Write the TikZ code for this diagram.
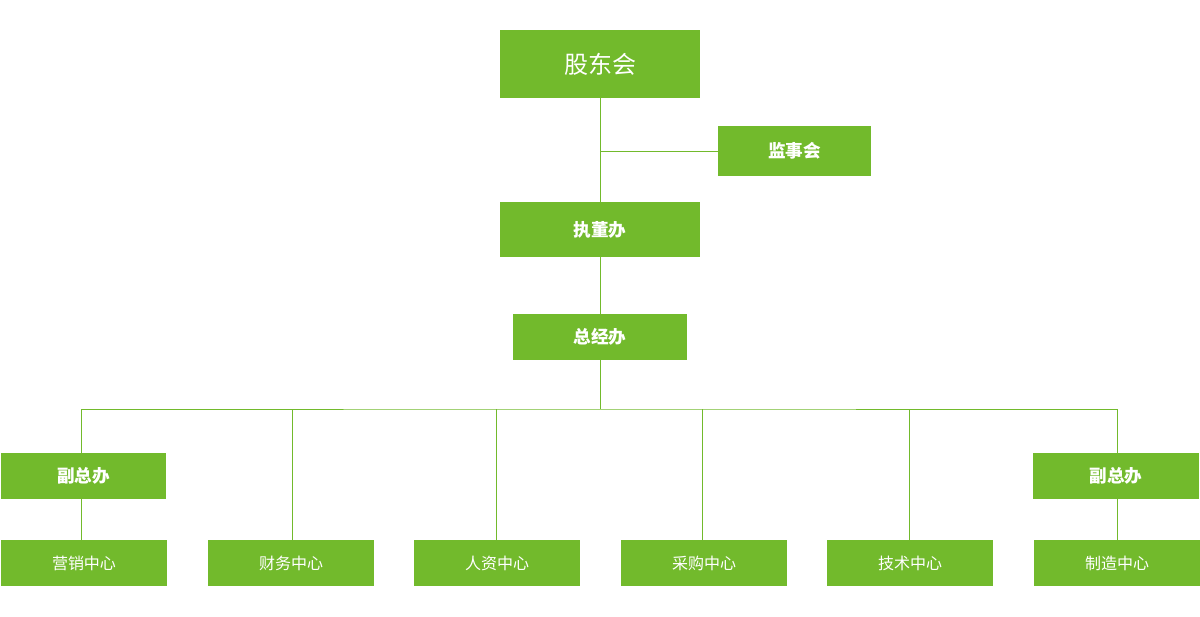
\documentclass[tikz,border=0pt]{standalone}
\usepackage{fontspec}
\newfontfamily\cjk{Noto Sans CJK SC}
\definecolor{leaf}{HTML}{72BA2C}
\begin{document}
\begin{tikzpicture}[x=1pt,y=-1pt,
  box/.style={fill=leaf,text=white,inner sep=0pt,anchor=center},
  big/.style={box,font=\cjk\fontsize{24}{27}\selectfont},
  bold/.style={box,font=\cjk\bfseries\fontsize{17.6}{20}\selectfont},
  plain/.style={box,font=\cjk\fontsize{16}{19}\selectfont,minimum width=166pt,minimum height=46pt},
  link/.style={draw=leaf,line width=0.9pt}]
\useasboundingbox (0,0) rectangle (1200,617);
\node[big,minimum width=200pt,minimum height=68pt] (gd) at (600,64) {股东会};
\node[bold,minimum width=153pt,minimum height=50pt] (js) at (794.5,151) {监事会};
\node[bold,minimum width=200pt,minimum height=55pt] (zd) at (600,229.5) {执董办};
\node[bold,minimum width=174pt,minimum height=46pt] (zj) at (600,337) {总经办};
\node[bold,minimum width=165pt,minimum height=46pt] (fl) at (83.5,476) {副总办};
\node[bold,minimum width=166pt,minimum height=46pt] (fr) at (1116,476) {副总办};
\node[plain] (yx) at (84,563) {营销中心};
\node[plain] (cw) at (291,563) {财务中心};
\node[plain] (rz) at (497,563) {人资中心};
\node[plain] (cg) at (704,563) {采购中心};
\node[plain] (js2) at (910,563) {技术中心};
\node[plain] (zz) at (1117,563) {制造中心};
\coordinate (bus) at (600,409);
\draw[link] (gd.south) -- (zd.north);
\draw[link] (js.west) -- (600,151);
\draw[link] (zd.south) -- (zj.north);
\draw[link] (zj.south) -- (bus);
\draw[link] (fl.north -| 81,0) |- (bus) -| (fr.north -| 1117,0);
\draw[link] (fl.south -| 81,0) -- (yx.north -| 81,0);
\draw[link] (fr.south -| 1117,0) -- (zz.north -| 1117,0);
\draw[link] (cw.north -| 292,0) -- (292,409);
\draw[link] (rz.north -| 496,0) -- (496,409);
\draw[link] (cg.north -| 702,0) -- (702,409);
\draw[link] (js2.north -| 909,0) -- (909,409);
\end{tikzpicture}
\end{document}
